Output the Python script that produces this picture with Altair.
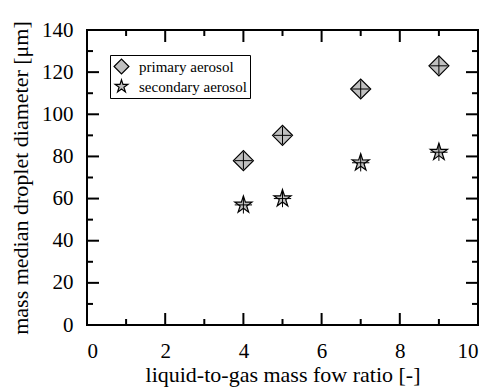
import altair as alt
import pandas as pd

# data
lg_ratio = [4, 5, 7, 9]
primary = [78, 90, 112, 123]
secondary = [57, 60, 77, 82]
series_names = ["primary aerosol", "secondary aerosol"]

x_major = [0, 2, 4, 6, 8, 10]
x_minor = [1, 3, 5, 7, 9]
y_major = [0, 20, 40, 60, 80, 100, 120, 140]
y_minor = [10, 30, 50, 70, 90, 110, 130]

W, H = 391, 295
FONT = "Liberation Serif"

STAR = ("M0,-0.9L0.201,-0.2767L0.856,-0.2781L0.3253,0.1057L0.529,0.7281L0,0.342"
        "L-0.529,0.7281L-0.3253,0.1057L-0.856,-0.2781L-0.201,-0.2767Z")
CROSS = "M0,-1L0,1M-1,0L1,0"

rows = []
for xv, yv in zip(lg_ratio, primary):
    rows.append({"x": xv, "y": yv, "series": series_names[0]})
for xv, yv in zip(lg_ratio, secondary):
    rows.append({"x": xv, "y": yv, "series": series_names[1]})
df = pd.DataFrame(rows)

xs = alt.Scale(domain=[0, 10], nice=False)
ys = alt.Scale(domain=[0, 140], nice=False)

xax = alt.Axis(values=x_major, ticks=False, domain=False, grid=False,
               labelFont=FONT, labelFontSize=21, labelColor="black", labelPadding=15,
               title="liquid-to-gas mass fow ratio [-]", titleFont=FONT, titleFontSize=22,
               titleFontWeight="normal", titleColor="black", titlePadding=3)
yax = alt.Axis(values=y_major, ticks=False, domain=False, grid=False,
               labelFont=FONT, labelFontSize=21, labelColor="black", labelPadding=14,
               title="mass median droplet diameter [μm]", titleFont=FONT, titleFontSize=22,
               titleFontWeight="normal", titleColor="black", titlePadding=9)

leg = alt.Legend(title=None, orient="none", legendX=23, legendY=25,
                 labelFont=FONT, labelFontSize=15, labelColor="black", labelOffset=9,
                 symbolStrokeWidth=1.2, symbolSize=220, rowPadding=0,
                 strokeColor="black", padding=3, fillColor="white")

base = alt.Chart(df)

points = base.mark_point(filled=True, fillOpacity=1, strokeWidth=1.2, opacity=1).encode(
    x=alt.X("x:Q", scale=xs, axis=xax),
    y=alt.Y("y:Q", scale=ys, axis=yax),
    shape=alt.Shape("series:N", scale=alt.Scale(domain=series_names, range=["diamond", STAR]), legend=leg),
    fill=alt.Fill("series:N", scale=alt.Scale(domain=series_names, range=["#c0c0c0", "#c0c0c0"]), legend=leg),
    stroke=alt.Stroke("series:N", scale=alt.Scale(domain=series_names, range=["black", "black"]), legend=leg),
)

crosses = base.mark_point(shape=CROSS, filled=False, stroke="black", strokeWidth=1,
                          opacity=1, size=300).encode(
    x=alt.X("x:Q", scale=xs),
    y=alt.Y("y:Q", scale=ys),
)

xt_major = pd.DataFrame({"v": x_major})
xt_minor = pd.DataFrame({"v": x_minor})
yt_major = pd.DataFrame({"v": y_major})
yt_minor = pd.DataFrame({"v": y_minor})

def xticks(d, L):
    b = alt.Chart(d).mark_rule(color="black", strokeWidth=2)
    return (b.encode(x=alt.X("v:Q", scale=xs), y=alt.value(H), y2=alt.value(H - L)) +
            b.encode(x=alt.X("v:Q", scale=xs), y=alt.value(0), y2=alt.value(L)))

def yticks(d, L):
    b = alt.Chart(d).mark_rule(color="black", strokeWidth=2)
    return (b.encode(y=alt.Y("v:Q", scale=ys), x=alt.value(0), x2=alt.value(L)) +
            b.encode(y=alt.Y("v:Q", scale=ys), x=alt.value(W), x2=alt.value(W - L)))

chart = alt.layer(
    xticks(xt_major, 12), xticks(xt_minor, 6), yticks(yt_major, 12), yticks(yt_minor, 6),
    points, crosses
).properties(
    width=W, height=H,
    autosize=alt.AutoSizeParams(type="none"),
    padding={"left": 79, "top": 22, "right": 4, "bottom": 62},
    background="white",
).configure(font=FONT).configure_point(size=400).configure_view(stroke="black", strokeWidth=2)

chart.save("out.html", embed_options={"renderer": "svg", "actions": False})
